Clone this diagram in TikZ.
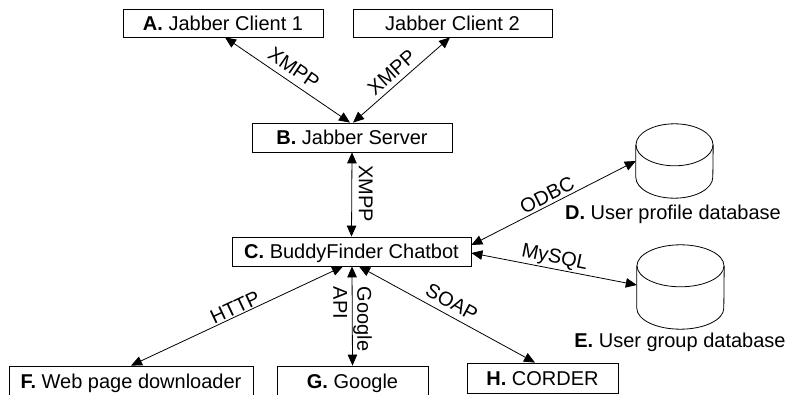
\documentclass[tikz,border=0pt]{standalone}
\usepackage{fontspec}
\setmainfont{Liberation Sans}
\usetikzlibrary{arrows.meta,calc}
\newcommand{\mycyl}[3]{% name, x radius, y radius
  \draw[line width=0.8pt] ($(#1.north west)+(0,#3)$) -- ($(#1.south west)+(0,-#3)$)
    arc[start angle=180,end angle=360,x radius=#2pt,y radius=#3pt]
    -- ($(#1.north east)+(0,#3)$);
  \draw[line width=0.8pt] ($(#1.north)+(0,#3)$) ellipse [x radius=#2pt, y radius=#3pt];
}
\begin{document}
\begin{tikzpicture}[x=1pt,y=-1pt,
  every node/.style={font=\fontsize{20}{24}\selectfont},
  box/.style={draw, line width=0.8pt, inner sep=0pt, text height=14.3pt, text depth=0pt},
  conn/.style={{Triangle[length=11pt,width=9.5pt]}-{Triangle[length=11pt,width=9.5pt]}, line width=0.8pt},
  lbl/.style={inner sep=0pt, text height=14.3pt, text depth=0pt},
  hidden/.style={inner sep=0pt}]

\fill[white] (0,0) rectangle (790,395);
\useasboundingbox (0,0) rectangle (790,395);

% boxes
\node[box, minimum width=200pt, minimum height=28pt] (A) at (223,23) {\textbf{A.} Jabber Client 1};
\node[box, minimum width=199pt, minimum height=28pt] (A2) at (452.5,23) {Jabber Client 2};
\node[box, minimum width=200pt, minimum height=29pt] (B) at (352,137.5) {\textbf{B.} Jabber Server};
\node[box, minimum width=239pt, minimum height=29pt] (C) at (351.5,251.5) {\textbf{C.} BuddyFinder Chatbot};
\node[box, minimum width=244pt, minimum height=31pt] (F) at (131,381.5) {\textbf{F.} Web page downloader};
\node[box, minimum width=151pt, minimum height=31pt] (G) at (352.5,381.5) {\textbf{G.} Google};
\node[box, minimum width=151pt, minimum height=30pt] (H) at (542.5,378) {\textbf{H.} CORDER};

% databases
\node[hidden, minimum width=77pt, minimum height=74pt] (D) at (674.5,161) {};
\mycyl{D}{38.5}{21}
\node[hidden, anchor=base] (Dl) at (673,219.5) {\textbf{D.} User profile database};
\node[hidden, minimum width=87pt, minimum height=84pt] (E) at (680.5,287) {};
\mycyl{E}{43.5}{21}
\node[hidden, anchor=base] (El) at (680,348) {\textbf{E.} User group database};

% connectors
\draw[conn] ($(A.south)+(2,0)$) -- ($(B.north)+(-2,0)$);
\draw[conn] ($(A2.south)+(-2.5,0)$) -- ($(B.north)+(1,0)$);
\draw[conn] (B.south) -- (C.north);
\draw[conn] ($(C.east)+(0,-6.5)$) -- (D.west);
\draw[conn] ($(C.east)+(0,1.5)$) -- ($(E.west)+(0,-2)$);
\draw[conn] ($(C.south)+(-8.5,0)$) -- (F.north);
\draw[conn] ($(C.south)+(0.5,0)$) -- (G.north);
\draw[conn] ($(C.south)+(7.5,0)$) -- ($(H.north)+(-7.5,0)$);

% labels
\node[lbl, rotate=-34.5] (l1) at (294,68) {XMPP};
\node[lbl, rotate=41.6] (l2) at (391.5,72.5) {XMPP};
\node[lbl, rotate=-90] (l3) at (366,194) {XMPP};
\node[lbl, rotate=26.8] (l4) at (547,195) {ODBC};
\node[lbl, rotate=-11.6] (l5) at (555,256) {MySQL};
\node[lbl, rotate=-28.9] (l6) at (452,302) {SOAP};
\node[lbl, rotate=25.3] (l7) at (235,307) {HTTP};
\node[hidden, rotate=-90, align=left] (l8) at (352.5,319) {Google\\API};
\end{tikzpicture}
\end{document}
